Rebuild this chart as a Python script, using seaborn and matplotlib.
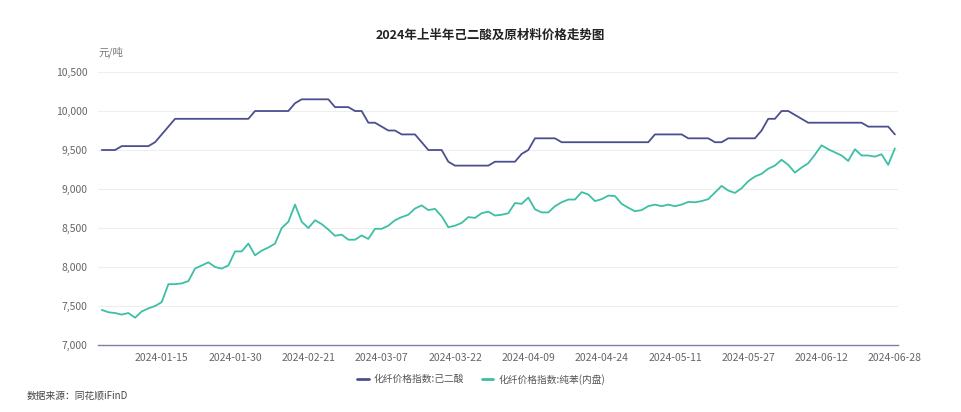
import numpy as np
import pandas as pd
import matplotlib
matplotlib.use("Agg")
import matplotlib.pyplot as plt
import seaborn as sns

# 化纤价格指数 2024H1, trading days
adipic_acid = [
    9500, 9500, 9500, 9550, 9550, 9550, 9550, 9550, 9600, 9700,
    9800, 9900, 9900, 9900, 9900, 9900, 9900, 9900, 9900, 9900,
    9900, 9900, 9900, 10000, 10000, 10000, 10000, 10000, 10000, 10100,
    10150, 10150, 10150, 10150, 10150, 10050, 10050, 10050, 10000, 10000,
    9850, 9850, 9800, 9750, 9750, 9700, 9700, 9700, 9600, 9500,
    9500, 9500, 9350, 9300, 9300, 9300, 9300, 9300, 9300, 9350,
    9350, 9350, 9350, 9450, 9500, 9650, 9650, 9650, 9650, 9600,
    9600, 9600, 9600, 9600, 9600, 9600, 9600, 9600, 9600, 9600,
    9600, 9600, 9600, 9700, 9700, 9700, 9700, 9700, 9650, 9650,
    9650, 9650, 9600, 9600, 9650, 9650, 9650, 9650, 9650, 9750,
    9900, 9900, 10000, 10000, 9950, 9900, 9850, 9850, 9850, 9850,
    9850, 9850, 9850, 9850, 9850, 9800, 9800, 9800, 9800, 9700,
]
benzene = [
    7450, 7420, 7410, 7390, 7410, 7350, 7430, 7470, 7500, 7550,
    7780, 7780, 7790, 7820, 7980, 8020, 8060, 8000, 7980, 8020,
    8200, 8200, 8300, 8150, 8210, 8250, 8300, 8500, 8580, 8800,
    8580, 8500, 8600, 8550, 8480, 8400, 8415, 8350, 8350, 8405,
    8360, 8490, 8490, 8530, 8600, 8640, 8670, 8750, 8790, 8730,
    8745, 8650, 8510, 8530, 8565, 8640, 8630, 8690, 8710, 8660,
    8670, 8690, 8820, 8810, 8890, 8740, 8700, 8700, 8780, 8830,
    8865, 8865, 8960, 8930, 8845, 8870, 8915, 8910, 8810, 8760,
    8715, 8730, 8780, 8800, 8780, 8800, 8780, 8800, 8835, 8830,
    8845, 8870, 8955, 9040, 8980, 8950, 9010, 9100, 9160, 9195,
    9260, 9300, 9375, 9310, 9210, 9275, 9330, 9440, 9560, 9510,
    9470, 9430, 9360, 9510, 9430, 9430, 9415, 9445, 9310, 9520,
]
tick_labels = ["2024-01-15", "2024-01-30", "2024-02-21", "2024-03-07",
               "2024-03-22", "2024-04-09", "2024-04-24", "2024-05-11",
               "2024-05-27", "2024-06-12", "2024-06-28"]
series_names = ["化纤价格指数:己二酸", "化纤价格指数:纯苯(内盘)"]
colors = ["#4b4f8e", "#3dbfa5"]

n = len(adipic_acid)
df = pd.DataFrame({
    "day": np.tile(np.arange(n), 2),
    "price": adipic_acid + benzene,
    "series": np.repeat(series_names, n),
})

sns.set_theme(style="white")
plt.rcParams["font.family"] = ["Noto Sans CJK SC", "DejaVu Sans"]

fig = plt.figure(figsize=(9.62, 4.12), dpi=100)
ax = fig.add_axes([0.1023, 0.1626, 0.8314, 0.6626])

sns.lineplot(data=df, x="day", y="price", hue="series", palette=colors,
             linewidth=1.3, ax=ax, legend=False)

ax.set_xlim(-0.5, n - 0.5)
ax.set_ylim(7000, 10500)
ax.set_yticks(np.arange(7000, 10501, 500))
ax.set_yticklabels([f"{v:,}" for v in range(7000, 10501, 500)])
ax.set_xticks(range(9, n, 11))
ax.set_xticklabels(tick_labels)
ax.tick_params(axis="both", length=0, labelsize=7.5, labelcolor="#666666")
ax.tick_params(axis="x", pad=6)
ax.tick_params(axis="y", pad=8)
ax.set_xlabel("")
ax.set_ylabel("")
ax.grid(axis="y", color="#eeeeee", linewidth=0.8)
for side in ["top", "right", "left"]:
    ax.spines[side].set_visible(False)
ax.spines["bottom"].set_color("#7c7fa8")
ax.spines["bottom"].set_linewidth(1.0)

fig.text(0.51, 0.915, "2024年上半年己二酸及原材料价格走势图",
         ha="center", va="center", fontsize=9, fontweight="bold", color="#222222")
fig.text(0.102, 0.873, "元/吨", ha="left", va="center", fontsize=7.5, color="#777777")

handles = [plt.Line2D([], [], color=c, linewidth=2) for c in colors]
fig.legend(handles, series_names, loc="center", bbox_to_anchor=(0.5, 0.08),
           ncol=2, frameon=False, fontsize=7, handlelength=1.2,
           handletextpad=0.5, columnspacing=1.8, labelcolor="#555555")

fig.text(0.028, 0.039, "数据来源：同花顺iFinD", ha="left", va="center",
         fontsize=7, color="#444444")

fig.savefig("out.png", dpi=100)
